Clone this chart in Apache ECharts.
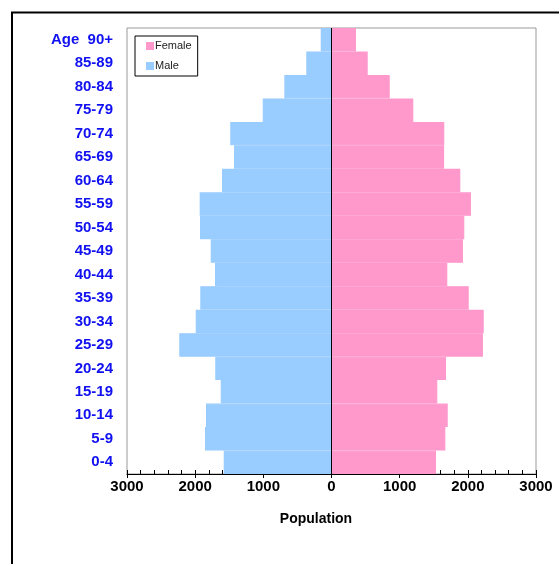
<!DOCTYPE html>
<html>
<head>
<meta charset="utf-8">
<script src="https://cdn.jsdelivr.net/npm/echarts@6/dist/echarts.min.js"></script>
<style>
html,body{margin:0;padding:0;background:#fff;}
#chart{width:559px;height:564px;}
</style>
</head>
<body>
<div id="chart"></div>
<script>
// Age groups (bottom to top)
const categories = ['0-4','5-9','10-14','15-19','20-24','25-29','30-34','35-39','40-44','45-49','50-54','55-59','60-64','65-69','70-74','75-79','80-84','85-89','90+'];
const maleValues = [1581,1856,1841,1625,1705,2233,1992,1925,1709,1772,1929,1934,1606,1430,1485,1009,692,370,158];
const femaleValues = [1533,1670,1705,1552,1680,2222,2233,2013,1699,1929,1948,2046,1890,1652,1655,1200,854,531,359];
const xTickValues = [-3000,-2000,-1000,0,1000,2000,3000];

const chart = echarts.init(document.getElementById('chart'), null, {renderer:'canvas'});
const font = 'Liberation Sans, Arial, sans-serif';

chart.setOption({
  animation: false,
  backgroundColor: '#fff',
  textStyle: {fontFamily: font},
  graphic: [{
    type: 'rect',
    shape: {x: 12, y: 12.5, width: 700, height: 700},
    style: {fill: 'none', stroke: '#000', lineWidth: 2},
    z: 0
  }],
  title: {
    text: 'Population',
    left: 311, top: 507,
    textAlign: 'center',
    textStyle: {fontFamily: font, fontSize: 14, fontWeight: 'bold', color: '#000'}
  },
  legend: {
    data: ['Female', 'Male'],
    orient: 'vertical',
    left: 135, top: 36,
    padding: [4, 6, 4, 11],
    itemGap: 8,
    itemWidth: 6, itemHeight: 6,
    icon: 'rect',
    borderColor: '#000', borderWidth: 1,
    backgroundColor: '#fff',
    textStyle: {fontFamily: font, fontSize: 11, color: '#222', lineHeight: 12, padding: [0,0,0,-3]}
  },
  grid: {
    left: 127, right: 23, top: 28, bottom: 90,
    show: true, borderColor: '#999', borderWidth: 1, backgroundColor: 'transparent'
  },
  xAxis: [{
    type: 'value', min: -3000, max: 3000, interval: 1000,
    position: 'bottom',
    axisLine: {show: true, lineStyle: {color: '#000', width: 1}},
    axisTick: {show: true, inside: false, length: 4, lineStyle: {color: '#000'}},
    minorTick: {show: false},
    splitLine: {show: false},
    axisLabel: {
      margin: 5,
      fontFamily: font, fontSize: 15, fontWeight: 'bold', color: '#000',
      formatter: v => xTickValues.indexOf(v) >= 0 ? String(Math.abs(v)) : ''
    }
  }, {
    type: 'value', min: -3000, max: 3000, interval: 1000,
    position: 'bottom', offset: 0,
    axisLine: {show: false},
    axisTick: {show: true, inside: true, length: 4, lineStyle: {color: '#000'}},
    minorTick: {show: true, splitNumber: 5, length: 4, lineStyle: {color: '#000', width: 1}},
    splitLine: {show: false},
    axisLabel: {show: false}
  }],
  yAxis: {
    type: 'category',
    data: categories,
    axisLine: {show: false},
    axisTick: {show: false},
    splitLine: {show: false},
    axisLabel: {
      margin: 14,
      fontFamily: font, fontSize: 15, fontWeight: 'bold', color: '#1010f0',
      formatter: v => v === '90+' ? 'Age  90+' : v
    }
  },
  series: [{
    name: 'Male',
    type: 'bar',
    stack: 'pop',
    barCategoryGap: 0,
    itemStyle: {color: '#99ccff', borderColor: '#99ccff', borderWidth: 1.2},
    data: maleValues.map(v => -v),
    markLine: {
      silent: true,
      symbol: 'none',
      label: {show: false},
      lineStyle: {color: '#000', width: 1, type: 'solid'},
      data: [{xAxis: 0}],
      z: 10
    }
  }, {
    name: 'Female',
    type: 'bar',
    stack: 'pop',
    barCategoryGap: 0,
    itemStyle: {color: '#ff99cc', borderColor: '#ff99cc', borderWidth: 1.2},
    data: femaleValues
  }]
});
</script>
</body>
</html>
